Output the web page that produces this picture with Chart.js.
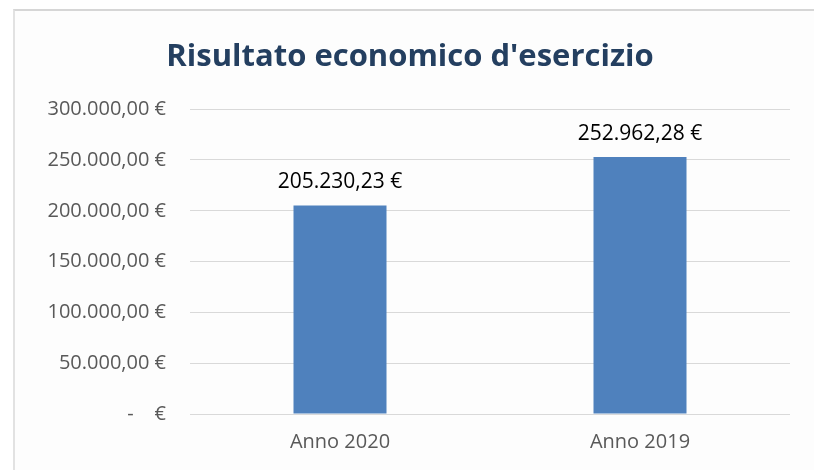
<!DOCTYPE html>
<html>
<head>
<meta charset="utf-8">
<script src="https://cdn.jsdelivr.net/npm/chart.js@4/dist/chart.umd.min.js"></script>
<style>
  html, body { margin: 0; padding: 0; background: #fff; }
  #wrap { position: relative; width: 814px; height: 470px; }
  #frame {
    position: absolute; left: 13px; top: 9px; right: 0; bottom: 0;
    border-top: 2px solid #d6d6d6; border-left: 2px solid #e2e2e2;
    background: #fdfdfd;
  }
  canvas { position: absolute; left: 0; top: 0; }
</style>
</head>
<body>
<div id="wrap">
  <div id="frame"></div>
  <canvas id="chart" width="814" height="470"></canvas>
</div>
<script>
const title = "Risultato economico d'esercizio";
const categories = ["Anno 2020", "Anno 2019"];
const values = [205230.23, 252962.28];
const yMax = 300000;
const yStep = 50000;

const FONT = "'Open Sans', 'DejaVu Sans', sans-serif";

function euro(v) {
  if (v === 0) return "-    €";
  const parts = v.toFixed(2).split(".");
  const intPart = parts[0].replace(/\B(?=(\d{3})+(?!\d))/g, ".");
  return intPart + "," + parts[1] + " €";
}

// draws the value above each bar
const valueLabels = {
  id: "valueLabels",
  afterDatasetsDraw(chart) {
    const ctx = chart.ctx;
    const meta = chart.getDatasetMeta(0);
    ctx.save();
    ctx.font = "21px " + FONT;
    ctx.fillStyle = "#000000";
    ctx.textAlign = "center";
    ctx.textBaseline = "middle";
    meta.data.forEach((bar, i) => {
      ctx.fillText(euro(values[i]), bar.x, bar.y - 23);
    });
    ctx.restore();
  }
};

new Chart(document.getElementById("chart"), {
  type: "bar",
  data: {
    labels: categories,
    datasets: [
      {
        data: values,
        backgroundColor: "#4F81BD",
        barPercentage: 0.31,
        categoryPercentage: 1,
      },
    ],
  },
  options: {
    responsive: false,
    animation: false,
    layout: { padding: { left: 30, right: 24, top: 10, bottom: 0 } },
    plugins: {
      legend: { display: false },
      tooltip: { enabled: false },
      title: {
        display: true,
        text: title,
        color: "#243F60",
        font: { family: FONT, size: 31, weight: "bold" },
        padding: { top: 29, bottom: 33 },
      },
    },
    scales: {
      x: {
        grid: { display: false, drawTicks: false },
        border: { display: false },
        ticks: { color: "#595959", font: { family: FONT, size: 20 }, padding: 16 },
      },
      y: {
        min: 0,
        max: yMax,
        afterFit(scale) { scale.width = 160; },
        grid: { color: "#D9D9D9", lineWidth: 1, drawTicks: false },
        border: { display: false },
        ticks: {
          stepSize: yStep,
          color: "#595959",
          font: { family: FONT, size: 20 },
          padding: 24,
          callback: (v) => euro(v),
        },
      },
    },
  },
  plugins: [valueLabels],
});
</script>
</body>
</html>
